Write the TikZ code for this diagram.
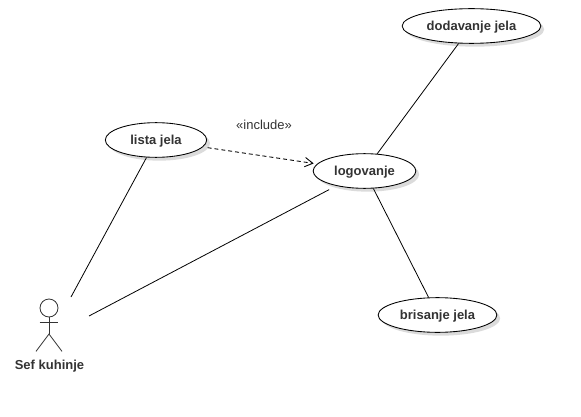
\documentclass[tikz,border=0pt]{standalone}
\usepackage{fontspec}
\setmainfont{Liberation Sans}
\usetikzlibrary{shapes.geometric,arrows.meta,positioning,shadows}
\definecolor{linegray}{HTML}{333333}
\tikzset{
    usecase/.style = {draw=black, line width=0.65pt, fill=white, ellipse, inner sep=0pt, text height=8.6pt, text depth=2pt, font=\bfseries\fontsize{9.75}{11}\selectfont, text=linegray,
        drop shadow={shadow xshift=2.5pt, shadow yshift=-2.5pt, fill=black!14, opacity=1}},
    head/.style = {draw=linegray, line width=0.6pt, fill=white, circle, minimum size=13.5pt, inner sep=0pt},
    tmp/.style  = {coordinate},
    limb/.style = {draw=linegray, line width=0.6pt},
    assoc/.style = {draw=black, line width=0.6pt},
    incl/.style = {draw=black, line width=0.65pt, dash pattern=on 3pt off 2.2pt, shorten <=3.5pt, shorten >=2.5pt}
}

\begin{document}
\begin{tikzpicture}[x=0.75pt, y=0.75pt, node distance=2cm, >={Straight Barb[length=6pt,width=7pt]}]
    \useasboundingbox (0,0) rectangle (581,-417);
    \node [usecase, minimum width=76pt, minimum height=26pt]  (lista)     at (156,-140)  {lista jela};
    \node [usecase, minimum width=77pt, minimum height=26pt]  (logovanje) at (364.5,-171) {logovanje};
    \node [usecase, minimum width=104pt, minimum height=26pt] (dodavanje) at (471.5,-26) {dodavanje jela};
    \node [usecase, minimum width=89pt, minimum height=26pt]  (brisanje)  at (437.5,-315)  {brisanje jela};

    % actor
    \node [head] (glava) at (49,-308) {};
    \node [tmp, below = 12.5pt of glava.south]  (hip)  {};
    \node [tmp, below = 4pt of glava.south]     (neck) {};
    \node [tmp, left = 7pt of neck]             (armL) {};
    \node [tmp, right = 7pt of neck]            (armR) {};
    \node [tmp, below left = 13pt and 9.75pt of hip]  (legL) {};
    \node [tmp, below right = 13pt and 9.75pt of hip] (legR) {};
    \node [font=\bfseries\fontsize{9.75}{11}\selectfont, text=linegray, inner sep=0pt] (sef) at (49.5,-366) {Sef kuhinje};
    \draw [limb] (glava.south) -- (hip);
    \draw [limb] (armL) -- (armR);
    \draw [limb] (legL) -- (hip) -- (legR);

    \node [tmp] (sef1) at (71,-297) {};
    \node [tmp] (sef2) at (89,-316) {};
    \node [font=\fontsize{9.75}{11}\selectfont, text=linegray, inner sep=0pt] (incl) at (264,-124.5) {«include»};

    \draw [assoc] (lista) -- (sef1);
    \draw [assoc, shorten <=6pt] (logovanje) -- (sef2);
    \draw [assoc] (logovanje) -- (dodavanje);
    \draw [assoc] (logovanje) -- (brisanje);
    \draw [incl, ->] (lista) -- (logovanje);
\end{tikzpicture}
\end{document}
